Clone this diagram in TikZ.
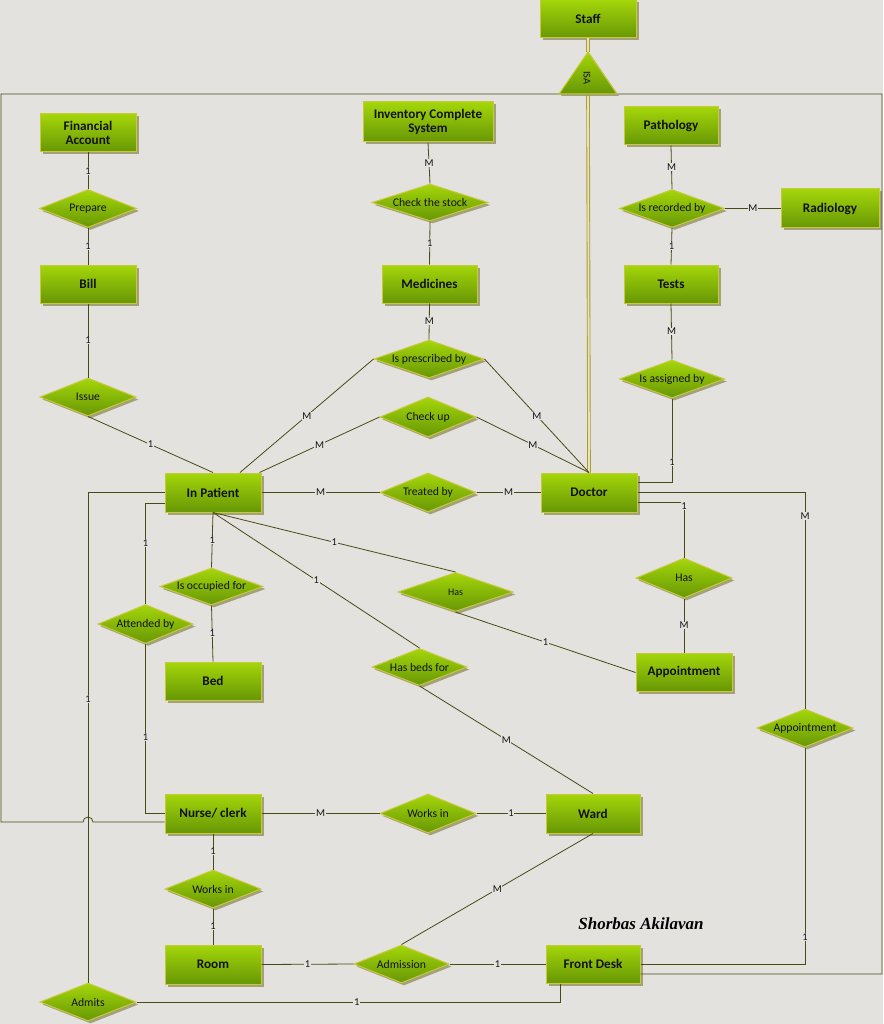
\documentclass[tikz,border=0pt]{standalone}
\usepackage{fontspec}
\setmainfont{Carlito}
\newfontfamily\sigfont{Liberation Serif}
\usetikzlibrary{shapes.geometric,shadows}
\definecolor{bg}{HTML}{E3E2DF}
\definecolor{gtop}{HTML}{A4D60A}
\definecolor{gbot}{HTML}{679705}
\definecolor{bord}{HTML}{C9C83A}
\definecolor{shad}{HTML}{9C9B70}
\definecolor{linecol}{HTML}{4A4A14}
\definecolor{txt}{HTML}{121212}
\definecolor{isacol}{HTML}{A89F2C}
\definecolor{isain}{HTML}{E6E2C0}
\tikzset{
  ent/.style={draw=bord, line width=1pt, top color=gtop, bottom color=gbot,
    minimum width=96pt, minimum height=38pt, inner sep=2pt, align=center,
    text=txt, font=\fontsize{13.2}{14.5}\selectfont\bfseries,
    drop shadow={shadow xshift=2.5pt, shadow yshift=-2.5pt, fill=shad, opacity=0.9}},
  rel/.style={diamond, draw=bord, line width=1pt, top color=gtop, bottom color=gbot,
    minimum width=96pt, minimum height=38pt, aspect=2.53, inner sep=0pt,
    text=txt, font=\fontsize{11.7}{13}\selectfont,
    drop shadow={shadow xshift=2.5pt, shadow yshift=-2.5pt, fill=shad, opacity=0.9}},
  card/.style={fill=bg, inner sep=0.6pt, text=txt, font=\fontsize{10.5}{12}\selectfont},
  link/.style={draw=linecol, line width=0.8pt},
  isaline/.style={draw=isacol, double=isain, double distance=1.8pt, line width=0.9pt}
}
\begin{document}
\begin{tikzpicture}[x=1pt,y=-1pt]
\fill[bg] (0,0) rectangle (883,1024);
\useasboundingbox (0,0) rectangle (883,1024);

% ---- coordinates of ISA triangle and frame
\coordinate (isaL) at (559,94);
\coordinate (isaT) at (588,52);
\coordinate (isaR) at (617,94);
\coordinate (isaB) at (588,94);
\coordinate (hopR) at (93,822);
\coordinate (frBL) at (1,822);
\coordinate (frTL) at (1,94);
\coordinate (frTR) at (882,94);
\coordinate (frBR) at (882,974);

% ---- entities
\node[ent] (staff) at (588,19) {Staff};
\node[ent] (fin) at (88,133) {Financial\\Account};
\node[ent] (bill) at (88,284) {Bill};
\node[ent, minimum width=130pt, minimum height=40pt] (inv) at (428,122) {Inventory Complete\\System};
\node[ent, minimum width=95pt] (med) at (429.5,284) {Medicines};
\node[ent, minimum width=94pt] (path) at (671,126) {Pathology};
\node[ent, minimum width=98pt, minimum height=39pt] (radio) at (830,208.5) {Radiology};
\node[ent, minimum width=94pt] (tests) at (671,284) {Tests};
\node[ent, minimum height=39pt] (inp) at (213,492.5) {In Patient};
\node[ent, minimum height=39pt] (doctor) at (589,492.5) {Doctor};
\node[ent] (appt) at (684,672) {Appointment};
\node[ent] (bed) at (213,681) {Bed};
\node[ent, minimum height=39pt] (nurse) at (213,813.5) {Nurse/ clerk};
\node[ent, minimum width=94pt, minimum height=39pt] (ward) at (593,813.5) {Ward};
\node[ent, minimum height=39pt] (room) at (213,964.5) {Room};
\node[ent, minimum width=94pt] (front) at (593,964) {Front Desk};

% ---- relationships
\node[rel, minimum width=97pt] (prepare) at (88,208.5) {Prepare};
\node[rel] (issue) at (88,397) {Issue};
\node[rel, minimum width=116pt, minimum height=37pt, aspect=3.1] (check) at (430,202.5) {Check the stock};
\node[rel, minimum width=110pt, aspect=2.9] (presc) at (429,359) {Is prescribed by};
\node[rel, minimum width=105pt, aspect=2.76] (recorded) at (672,208.5) {Is recorded by};
\node[rel, minimum width=105pt, aspect=2.76] (assigned) at (672,379) {Is assigned by};
\node[rel, minimum height=40pt, aspect=2.4] (checkup) at (428,417) {Check up};
\node[rel, minimum height=39pt] (treated) at (428,492.5) {Treated by};
\node[rel, minimum width=103pt, minimum height=37pt, aspect=2.78] (occupied) at (211.5,586.5) {Is occupied for};
\node[rel, minimum width=95pt, minimum height=39pt] (attended) at (145.5,624) {Attended by};
\node[rel, minimum width=115pt, minimum height=39pt, aspect=2.95, font=\fontsize{10}{11}\selectfont] (hasm) at (455.5,592) {Has};
\node[rel, minimum width=95pt, minimum height=37pt, aspect=2.57] (hasbeds) at (419.5,667) {Has beds for};
\node[rel, minimum height=40pt, aspect=2.4] (hasr) at (684,578) {Has};
\node[rel] (apptd) at (805,728) {Appointment};
\node[rel, minimum height=39pt] (worksm) at (428,813.5) {Works in};
\node[rel] (worksl) at (213,889) {Works in};
\node[rel, minimum width=95pt] (admission) at (401.5,964) {Admission};
\node[rel] (admits) at (88,1002) {Admits};

% ---- ISA triangle
\draw[isaline] (staff.south) -- (isaT);
\draw[isaline] (isaB) -- (doctor.north);
\draw[link] ([yshift=-8.5pt]nurse.west) -- (hopR)
  arc[start angle=0, end angle=-180, radius=5] -- (frBL) -- (frTL) -- (frTR)
  -- (frBR) -- ([yshift=-10pt]front.east);
\shade[top color=gtop, bottom color=gbot, draw=bord, line width=1pt,
  drop shadow={shadow xshift=2pt, shadow yshift=-2pt, fill=shad, opacity=0.9}]
  (isaL) -- (isaT) -- (isaR) -- cycle;
\node[rotate=-90, text=txt, font=\fontsize{10.5}{12}\selectfont] (isa) at (587,78) {ISA};

% ---- connectors, left column
\draw[link] (fin.south) -- node[card] {1} (prepare.north);
\draw[link] (prepare.south) -- node[card] {1} (bill.north);
\draw[link] (bill.south) -- node[card] {1} (issue.north);
\draw[link] (issue.south) -- node[card] {1} (inp.north);

% ---- middle column
\draw[link] (inv.south) -- node[card] {M} (check.north);
\draw[link] (check.south) -- node[card] {1} (med.north);
\draw[link] (med.south) -- node[card] {M} (presc.north);
\draw[link] (presc.west) -- node[card] {M} ([xshift=27pt]inp.north);
\draw[link] (presc.east) -- node[card] {M} (doctor.north);
\draw[link] (checkup.west) -- node[card] {M} ([xshift=-2pt]inp.north east);
\draw[link] (checkup.east) -- node[card] {M} (doctor.north);
\draw[link] (inp.east) -- node[card] {M} (treated.west);
\draw[link] (treated.east) -- node[card] {M} (doctor.west);

% ---- right column
\draw[link] (path.south) -- node[card] {M} (recorded.north);
\draw[link] (recorded.east) -- node[card] {M} (radio.west);
\draw[link] (recorded.south) -- node[card] {1} (tests.north);
\draw[link] (tests.south) -- node[card] {M} (assigned.north);
\draw[link] (assigned.south) |- node[card, pos=0.38] {1} ([yshift=10pt]doctor.east);
\draw[link] ([yshift=-10pt]doctor.east) -| node[card, pos=0.53] {1} (hasr.north);
\draw[link] (doctor.east) -| node[card, pos=0.555] {M} (apptd.north);
\draw[link] (hasr.south) -- node[card] {M} (appt.north);
\draw[link] (apptd.south) |- node[card, pos=0.438] {1} (front.east);

% ---- In Patient lower connections
\draw[link] (inp.south) -- node[card] {1} (occupied.north);
\draw[link] (occupied.south) -- node[card] {1} (bed.north);
\draw[link] (inp.south) -- node[card] {1} (hasm.north);
\draw[link] (hasm.south) -- node[card] {1} ([yshift=-0.5pt]appt.west);
\draw[link] (inp.south) -- node[card] {1} (hasbeds.north);
\draw[link] (hasbeds.south) -- node[card] {M} (ward.north);
\draw[link] ([yshift=-10.5pt]inp.west) -| node[card, pos=0.7] {1} (attended.north);
\draw[link] (attended.south) |- node[card, pos=0.275] {1} (nurse.west);
\draw[link] (admits.north) |- node[card, pos=0.289] {1} (inp.west);

% ---- bottom
\draw[link] (nurse.east) -- node[card] {M} (worksm.west);
\draw[link] (worksm.east) -- node[card] {1} (ward.west);
\draw[link] (nurse.south) -- node[card] {1} (worksl.north);
\draw[link] (worksl.south) -- node[card] {1} (room.north);
\draw[link] (ward.south) -- node[card] {M} (admission.north);
\draw[link] (room.east) -- node[card] {1} (admission.west);
\draw[link] (admission.east) -- node[card] {1} (front.west);
\draw[link] (admits.east) -| node[card, pos=0.26] {1} ([xshift=-33pt]front.south);

% ---- signature
\node[text=black, font=\sigfont\fontsize{17}{19}\selectfont\bfseries\itshape] (sig) at (641,924) {Shorbas Akilavan};
\end{tikzpicture}
\end{document}
